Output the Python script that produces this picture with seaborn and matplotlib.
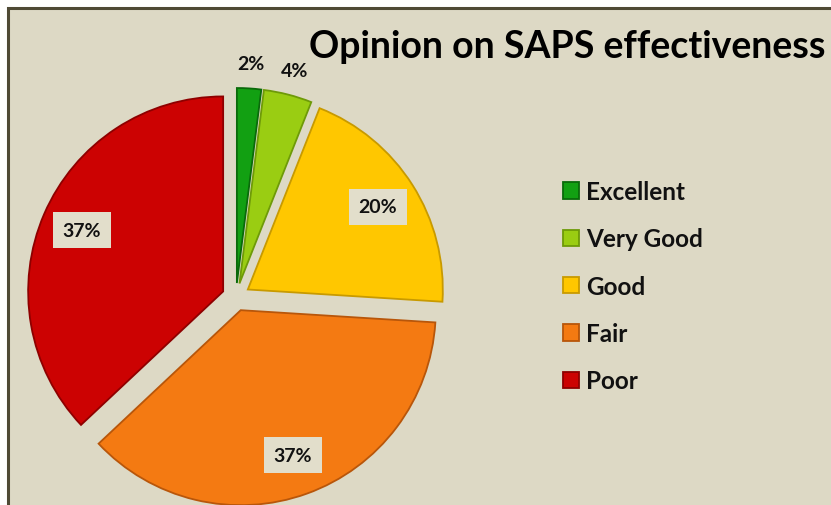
import matplotlib
matplotlib.use("Agg")
import matplotlib.pyplot as plt
import matplotlib.patches as mpatches
import seaborn as sns
import numpy as np

sns.set_theme(style="white")
plt.rcParams['font.family'] = ['Lato', 'DejaVu Sans']

# ---- data ----
categories = ["Excellent", "Very Good", "Good", "Fair", "Poor"]
values = [2, 4, 20, 37, 37]
colors = ["#12A012", "#9ACD12", "#FFC700", "#F47A12", "#CC0202"]
edge_colors = ["#0A6A0A", "#6E9A08", "#C89A00", "#B8560A", "#8E0000"]
title = "Opinion on SAPS effectiveness"

BG = "#DDD9C5"
W, H = 831, 506

fig = plt.figure(figsize=(W / 100, H / 100), dpi=100, facecolor="white")
ax = fig.add_axes([0, 0, 1, 1])

# chart area with frame
ax.add_patch(mpatches.Rectangle((8, -10), W + 20, H - 9 + 10, facecolor=BG,
                                edgecolor="#4F4A35", linewidth=2.2, zorder=0))

R = 195
EXPL = 14
center = (236, H - 298)
wedges, texts, autotexts = ax.pie(
    values, colors=colors, startangle=90, counterclock=False,
    explode=[EXPL] * len(values), radius=R, center=center,
    autopct=lambda p: f"{p:.0f}%", pctdistance=0.79,
    wedgeprops=dict(linewidth=1.3), frame=True,
    textprops=dict(fontsize=14, fontweight="bold", color="#111111"))
ax.set_xlim(0, W)
ax.set_ylim(0, H)
ax.set_aspect("equal")
ax.axis("off")

for w, ec in zip(wedges, edge_colors):
    w.set_edgecolor(ec)
    w.set_zorder(2)

for w, t, v in zip(wedges, autotexts, values):
    t.set_zorder(4)
    if v < 5:
        ang = np.deg2rad((w.theta1 + w.theta2) / 2)
        cx, cy = w.center
        d = R * 1.13
        t.set_position((cx + d * np.cos(ang), cy + d * np.sin(ang)))
    else:
        t.set_bbox(dict(facecolor="#E2DECB", edgecolor="none", pad=7))

ax.text(309, H - 47, title, fontsize=27, fontweight="bold", color="#000000",
        ha="left", va="center", zorder=5)

leg = ax.legend(wedges, categories, loc="upper left",
                bbox_to_anchor=(563 / W, 1 - 181 / H), frameon=False,
                fontsize=17.5, handlelength=0.66, handleheight=0.66,
                handletextpad=0.28, labelspacing=1.0, borderaxespad=0,
                borderpad=0)
for txt in leg.get_texts():
    txt.set_fontweight("bold")
    txt.set_color("#111111")

fig.savefig("out.png", dpi=100, facecolor="white")
